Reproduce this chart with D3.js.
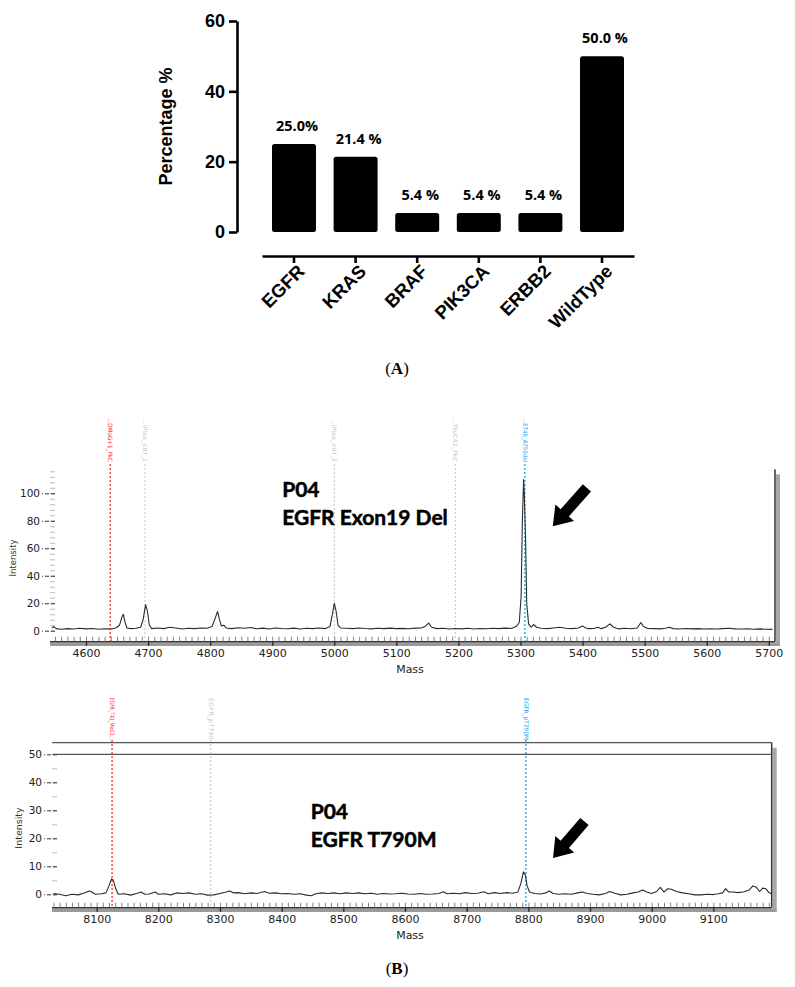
<!DOCTYPE html>
<html>
<head>
<meta charset="utf-8">
<script src="https://cdn.jsdelivr.net/npm/d3@7"></script>
<style>
  html, body { margin: 0; padding: 0; background: #fff; }
  svg { display: block; }
</style>
</head>
<body>
<svg id="chart" width="795" height="987"></svg>
<script>
// ---------------- DATA ----------------
const barCategories = ["EGFR", "KRAS", "BRAF", "PIK3CA", "ERBB2", "WildType"];
const barValues = [25.0, 21.4, 5.4, 5.4, 5.4, 50.0];
const barValueLabels = ["25.0%", "21.4 %", "5.4 %", "5.4 %", "5.4 %", "50.0 %"];
const barYTicks = [0, 20, 40, 60];

const spec1XTicks = [4600, 4700, 4800, 4900, 5000, 5100, 5200, 5300, 5400, 5500, 5600, 5700];
const spec1YTicks = [0, 20, 40, 60, 80, 100];
const spec2XTicks = [8100, 8200, 8300, 8400, 8500, 8600, 8700, 8800, 8900, 9000, 9100];
const spec2YTicks = [0, 10, 20, 30, 40, 50];

const spec1Markers = [
  { mass: 4639, label: "...DMoG+1_PkC", kind: "red" },
  { mass: 4695, label: "...iPlex_ctrl_1", kind: "gray" },
  { mass: 5000, label: "...iPlex_ctrl_2", kind: "gray" },
  { mass: 5195, label: "...TtoC42_PkC", kind: "gray" },
  { mass: 5307, label: "...E746_A750del", kind: "blue" }
];
const spec2Markers = [
  { mass: 8125, label: "EGFR_T41_MoG1...", kind: "red" },
  { mass: 8285, label: "EGFR_pT790", kind: "gray" },
  { mass: 8796, label: "EGFR_pT790M", kind: "blue" }
];

// [mass, intensity]
const spectrum1 = [
  [4545,2],[4548,3],[4552,1.5],[4560,1],[4570,1.5],[4580,1.2],[4590,1.8],[4600,1.3],[4610,1.6],[4620,1],
  [4630,1.4],[4640,1.2],[4648,2],[4654,4],[4658,10],[4660,12],[4663,6],[4666,2],[4672,1.5],[4680,1.8],
  [4688,2.5],[4692,8],[4696,19],[4699,14],[4702,4],[4706,1.5],[4715,2],[4725,1.5],[4735,2.5],[4745,2],
  [4755,1.2],[4765,1.8],[4775,1.5],[4785,2],[4795,1.8],[4803,3],[4808,9],[4812,14],[4815,8],[4818,3.5],
  [4822,4],[4826,2],[4835,1.5],[4845,2.2],[4855,1.8],[4865,2.3],[4875,1.4],[4885,1.9],[4895,1.2],[4905,2],
  [4915,1.6],[4925,1.4],[4935,1.9],[4945,1.2],[4955,1.8],[4965,1.5],[4975,2],[4985,1.5],[4993,3],[4997,12],
  [5000,20],[5003,14],[5006,4],[5010,2],[5020,1.8],[5030,1.5],[5040,2],[5050,1.6],[5060,1.3],[5070,1.8],
  [5080,1.5],[5090,1.9],[5100,1.5],[5110,1.7],[5120,1.4],[5130,1.9],[5140,2],[5146,3],[5152,5.5],[5157,2.5],
  [5165,1.5],[5175,1.8],[5185,1.2],[5195,1.6],[5205,1.3],[5215,1.8],[5225,1.2],[5235,1.6],[5245,1.4],[5255,1.8],
  [5265,1.5],[5275,1.9],[5285,1.6],[5293,3],[5298,6],[5301,25],[5303,80],[5305,110],[5306,100],[5308,70],
  [5310,20],[5313,5],[5317,2.5],[5321,4.5],[5326,2.5],[5333,1.8],[5343,1.5],[5353,2],[5363,2.5],[5373,1.8],
  [5383,1.5],[5393,2],[5400,3.5],[5405,2],[5410,1.5],[5418,1.6],[5425,2.5],[5430,1.5],[5437,2.5],[5444,5],
  [5450,2.5],[5458,1.3],[5468,1.8],[5478,1.4],[5488,2],[5494,6],[5498,3],[5505,1.6],[5515,1.5],[5525,1.3],
  [5533,1.8],[5540,2.5],[5546,1.5],[5556,1.2],[5566,1.6],[5576,1.3],[5586,1.5],[5596,1.2],[5606,1.4],[5616,1.2],
  [5626,1.5],[5636,1.8],[5646,1.3],[5656,1.2],[5666,1.4],[5676,1.1],[5686,1.3],[5696,1.1],[5706,1]
];
const spectrum2 = [
  [8030,0.3],[8040,0],[8050,-0.5],[8060,0],[8070,-0.2],[8080,0.5],[8088,1.2],[8092,0.8],[8098,0],[8108,0.2],
  [8115,0.5],[8120,3],[8124,5.5],[8127,5],[8131,2],[8135,0],[8145,0.2],[8155,-0.3],[8165,0.3],[8172,0.8],
  [8178,0],[8185,0.1],[8195,0.8],[8200,0],[8210,0.2],[8220,-0.2],[8230,0.5],[8240,0.3],[8250,0.5],[8260,0],
  [8270,0.2],[8280,-0.3],[8290,-0.2],[8300,0.3],[8310,0.8],[8316,1.2],[8322,0.5],[8330,0.6],[8340,0.2],[8350,0.5],
  [8360,0.3],[8372,1],[8380,0.4],[8390,0.5],[8400,0.2],[8410,0.3],[8420,0],[8430,0.2],[8440,-0.3],[8448,-0.5],
  [8455,0.2],[8465,0.5],[8475,0.3],[8485,0.5],[8495,0.2],[8505,0.5],[8515,0.3],[8525,0.5],[8535,0.2],[8545,0.4],
  [8555,0],[8565,0.3],[8575,0.1],[8585,0.2],[8595,0.4],[8605,0.1],[8615,0],[8625,0.3],[8635,0],[8645,0.1],
  [8655,0.3],[8662,0.9],[8668,0.2],[8678,0.4],[8688,0.2],[8698,0.6],[8708,0.3],[8718,0.4],[8728,0.9],[8735,0.2],
  [8745,0.6],[8755,0.3],[8765,0.6],[8775,0.4],[8783,0.8],[8788,4],[8792,8],[8795,7],[8798,3],[8802,0.8],
  [8810,0.3],[8820,0.1],[8828,0.5],[8834,1.2],[8840,0.3],[8850,0],[8860,0.2],[8870,0],[8880,0.5],[8888,0.8],
  [8895,0.3],[8905,0],[8915,-0.2],[8925,0.3],[8932,1],[8940,0.4],[8950,-0.2],[8960,0],[8970,0.5],[8978,0.8],
  [8985,1.5],[8992,0.8],[9000,0.3],[9008,1],[9014,2.5],[9020,0.8],[9026,2],[9032,1.8],[9040,1],[9050,0.5],
  [9060,0.2],[9070,-0.2],[9080,-0.2],[9090,0],[9100,-0.1],[9108,0.2],[9115,0.5],[9120,2],[9125,0.8],[9132,0.8],
  [9140,0.6],[9150,0.9],[9158,1.5],[9164,3],[9170,2.5],[9175,1],[9180,2.2],[9185,2],[9190,0.6],[9194,0.2]
];

// annotation anchors in data units: [mass, intensity]
const spec1Annot = { title: "P04", sub: "EGFR Exon19 Del", at: [4916, 97.5], at2: [4916, 77], arrowTail: [5407, 104], arrowTip: [5352, 76] };
const spec2Annot = { title: "P04", sub: "EGFR T790M", at: [8447, 27], at2: [8447, 17], arrowTail: [8891, 26], arrowTip: [8840, 13] };

// ---------------- DRAW ----------------
const svg = d3.select("#chart");
const markerColor = { red: "#ff2a2a", gray: "#c4c4c4", blue: "#17a2f0" };
const boldSans = "'Liberation Sans', Arial, sans-serif";
const specFont = "'DejaVu Sans', Verdana, sans-serif";

// ===== Panel A: bar chart =====
const yA = d3.scaleLinear().domain([0, 60]).range([232, 21]);
const xA = d3.scaleBand().domain(barCategories).range([262, 634]).paddingInner(0.286).paddingOuter(0.1625);

const gA = svg.append("g");
const yAxisA = d3.axisLeft(yA).tickValues(barYTicks).tickSize(8).tickSizeOuter(0).tickPadding(4);
const gyA = gA.append("g").attr("transform", "translate(237,0)").call(yAxisA);
gyA.select(".domain").attr("stroke", "#000").attr("stroke-width", 2.6);
gyA.selectAll(".tick line").attr("stroke", "#000").attr("stroke-width", 2.6);
gyA.selectAll(".tick text").attr("font-family", boldSans).attr("font-weight", "bold").attr("font-size", 18).attr("fill", "#000");

const xAxisA = d3.axisBottom(xA).tickSize(7).tickSizeOuter(0).tickPadding(3);
const gxA = gA.append("g").attr("transform", "translate(0,256)").call(xAxisA);
gxA.select(".domain").attr("stroke", "#000").attr("stroke-width", 2.6);
gxA.selectAll(".tick line").attr("stroke", "#000").attr("stroke-width", 2.6);
gxA.selectAll(".tick text")
  .attr("font-family", boldSans).attr("font-weight", "bold").attr("font-size", 18.5).attr("fill", "#000")
  .attr("text-anchor", "end")
  .attr("transform", "translate(7,12) rotate(-45)")
  .attr("dy", "0.35em").attr("y", 0).attr("x", 0);

gA.selectAll("rect.bar").data(barValues).join("rect")
  .attr("class", "bar")
  .attr("x", (d, i) => xA(barCategories[i]))
  .attr("width", xA.bandwidth())
  .attr("y", d => yA(d))
  .attr("height", d => yA(0) - yA(d))
  .attr("rx", 2.5)
  .attr("fill", "#000");

gA.selectAll("text.val").data(barValues).join("text")
  .attr("class", "val")
  .attr("x", (d, i) => xA(barCategories[i]) + xA.bandwidth() / 2 + 3)
  .attr("y", d => yA(d) - 13)
  .attr("text-anchor", "middle")
  .attr("font-family", "'Open Sans', 'Noto Sans', sans-serif")
  .attr("font-weight", "bold").attr("font-size", 14.5).attr("fill", "#000")
  .text((d, i) => barValueLabels[i]);

gA.append("text")
  .attr("transform", `translate(172,${(yA(0) + yA(60)) / 2}) rotate(-90)`)
  .attr("text-anchor", "middle")
  .attr("font-family", boldSans).attr("font-weight", "bold").attr("font-size", 18).attr("fill", "#000")
  .text("Percentage %");

function panelLabel(letter, x, y) {
  const t = svg.append("text").attr("x", x).attr("y", y).attr("text-anchor", "middle")
    .attr("font-family", "'Liberation Serif', 'Times New Roman', serif").attr("font-size", 17).attr("fill", "#000");
  t.append("tspan").text("(");
  t.append("tspan").attr("font-weight", "bold").text(letter);
  t.append("tspan").text(")");
}
panelLabel("A", 397, 374);
panelLabel("B", 397, 974);

// ===== Spectrum helper =====
function drawSpectrum(cfg) {
  const g = svg.append("g");
  const x = d3.scaleLinear().domain(cfg.xDomain).range([cfg.left, cfg.right]);
  const y = d3.scaleLinear().domain([0, cfg.yRef]).range([cfg.y0, cfg.yRefPx]);

  if (cfg.topLines) {
    cfg.topLines.forEach(v => {
      g.append("line").attr("x1", cfg.left).attr("x2", cfg.right)
        .attr("y1", y(v)).attr("y2", y(v)).attr("stroke", "#555").attr("stroke-width", 1.3);
    });
  }

  // right border with shadow
  g.append("line").attr("x1", cfg.right + 3).attr("x2", cfg.right + 3)
    .attr("y1", y(cfg.yTop) + 5).attr("y2", cfg.axisY + 3).attr("stroke", "#a8a8a8").attr("stroke-width", 4);
  g.append("line").attr("x1", cfg.right).attr("x2", cfg.right)
    .attr("y1", y(cfg.yTop)).attr("y2", cfg.axisY).attr("stroke", "#333").attr("stroke-width", 1.5);

  const yMinor = d3.axisLeft(y).tickValues(cfg.yMinor).tickSize(5).tickFormat("");
  const gym = g.append("g").attr("transform", `translate(${cfg.yAxisX},0)`).call(yMinor);
  gym.select(".domain").remove();
  gym.selectAll("line").attr("stroke", "#bbb").attr("stroke-width", 1);
  const yMajor = d3.axisLeft(y).tickValues(cfg.yTicks).tickSize(13).tickPadding(2);
  const gy = g.append("g").attr("transform", `translate(${cfg.yAxisX},0)`).call(yMajor);
  gy.select(".domain").remove();
  gy.selectAll(".tick line").attr("stroke", "#333").attr("stroke-width", 1).attr("stroke-dasharray", "4,2");
  gy.selectAll(".tick text").attr("font-family", specFont).attr("font-size", cfg.yFont).attr("fill", "#222");

  g.append("text")
    .attr("transform", `translate(${cfg.intX},${cfg.intY}) rotate(-90)`)
    .attr("text-anchor", "middle").attr("font-family", specFont).attr("font-size", cfg.intFont).attr("fill", "#333")
    .text("Intensity");

  cfg.markers.forEach(m => {
    const c = markerColor[m.kind];
    g.append("line").attr("x1", x(m.mass)).attr("x2", x(m.mass))
      .attr("y1", cfg.markerTop + 2).attr("y2", cfg.axisY - 1)
      .attr("stroke", c).attr("stroke-width", m.kind === "gray" ? 1 : 1.3).attr("stroke-dasharray", "2,2");
    g.append("rect").attr("x", x(m.mass) - 4).attr("y", cfg.markerTop).attr("width", 8).attr("height", cfg.markerLabelLen)
      .attr("fill", "#fff");
    g.append("text")
      .attr("transform", `translate(${x(m.mass) - 2},${cfg.markerTop}) rotate(90)`)
      .attr("font-family", specFont).attr("font-size", 6).attr("fill", c)
      .attr("textLength", cfg.markerLabelLen).attr("lengthAdjust", "spacingAndGlyphs")
      .text(m.label);
  });

  const line = d3.line().x(d => x(d[0])).y(d => y(d[1]));
  g.append("path").datum(cfg.data).attr("d", line).attr("fill", "none")
    .attr("stroke", "#2b2b2b").attr("stroke-width", 1.1).attr("stroke-linejoin", "round");

  g.append("line").attr("x1", cfg.left).attr("x2", cfg.right + 5)
    .attr("y1", cfg.axisY + 2.5).attr("y2", cfg.axisY + 2.5).attr("stroke", "#9a9a9a").attr("stroke-width", 3.5);
  g.append("line").attr("x1", cfg.left).attr("x2", cfg.right)
    .attr("y1", cfg.axisY).attr("y2", cfg.axisY).attr("stroke", "#333").attr("stroke-width", 1.6);

  const minorVals = d3.range(Math.ceil(cfg.xDomain[0] / 10) * 10, cfg.xDomain[1], 10);
  const xMinor = d3.axisBottom(x).tickValues(minorVals).tickSize(-5).tickFormat("");
  const gxm = g.append("g").attr("transform", `translate(0,${cfg.axisY})`).call(xMinor);
  gxm.select(".domain").remove();
  gxm.selectAll("line").attr("stroke", "#666").attr("stroke-width", 0.8);

  const xMajor = d3.axisBottom(x).tickValues(cfg.xTicks).tickSize(-9).tickPadding(8).tickFormat(d3.format("d"));
  const gx = g.append("g").attr("transform", `translate(0,${cfg.axisY})`).call(xMajor);
  gx.select(".domain").remove();
  gx.selectAll(".tick line").attr("stroke", "#222").attr("stroke-width", 1.3).attr("y2", 4);
  gx.selectAll(".tick text").attr("font-family", specFont).attr("font-size", 11).attr("fill", "#222");

  g.append("text").attr("x", 410).attr("y", cfg.axisY + 31).attr("text-anchor", "middle")
    .attr("font-family", specFont).attr("font-size", 11).attr("fill", "#222").text("Mass");

  const a = cfg.annot;
  const tf = "Lato, 'Open Sans', sans-serif";
  [[a.at, a.title], [a.at2, a.sub]].forEach(([p, s]) => {
    g.append("text").attr("x", x(p[0])).attr("y", y(p[1]))
      .attr("font-family", tf).attr("font-weight", "bold").attr("font-size", 21)
      .attr("fill", "#000").attr("stroke", "#000").attr("stroke-width", 0.5).text(s);
  });

  const tx = x(a.arrowTail[0]), ty = y(a.arrowTail[1]);
  const hx = x(a.arrowTip[0]), hy = y(a.arrowTip[1]);
  const dx = hx - tx, dy = hy - ty, L = Math.hypot(dx, dy);
  const ux = dx / L, uy = dy / L, px = -uy, py = ux;
  const sw = 5.5, hw = 12.5, hl = 18;
  const bx = hx - ux * hl, by = hy - uy * hl;
  const pts = [
    [tx + px * sw, ty + py * sw], [bx + px * sw, by + py * sw], [bx + px * hw, by + py * hw],
    [hx, hy],
    [bx - px * hw, by - py * hw], [bx - px * sw, by - py * sw], [tx - px * sw, ty - py * sw]
  ];
  g.append("path").attr("d", "M" + pts.map(p => p.join(",")).join("L") + "Z").attr("fill", "#000");
}

drawSpectrum({
  data: spectrum1, xDomain: [4542, 5710], left: 50, right: 775,
  yRef: 100, y0: 630.7, yRefPx: 493.3, yTop: 117.5, axisY: 641.7,
  yTicks: spec1YTicks, yMinor: d3.range(0, 118, 4), yAxisX: 55, yFont: 10.5,
  intX: 16, intY: 558, intFont: 8.5,
  markers: spec1Markers, markerTop: 418, markerLabelLen: 44,
  xTicks: spec1XTicks, annot: spec1Annot
});

drawSpectrum({
  data: spectrum2, xDomain: [8027.6, 9194.6], left: 52, right: 771.7,
  yRef: 50, y0: 894.3, yRefPx: 754.3, yTop: 54.15, axisY: 907.7, topLines: [54.15, 50],
  yTicks: spec2YTicks, yMinor: d3.range(0, 51, 5), yAxisX: 57, yFont: 10.5,
  intX: 22, intY: 828, intFont: 9.5,
  markers: spec2Markers, markerTop: 698, markerLabelLen: 42,
  xTicks: spec2XTicks, annot: spec2Annot
});
</script>
</body>
</html>
